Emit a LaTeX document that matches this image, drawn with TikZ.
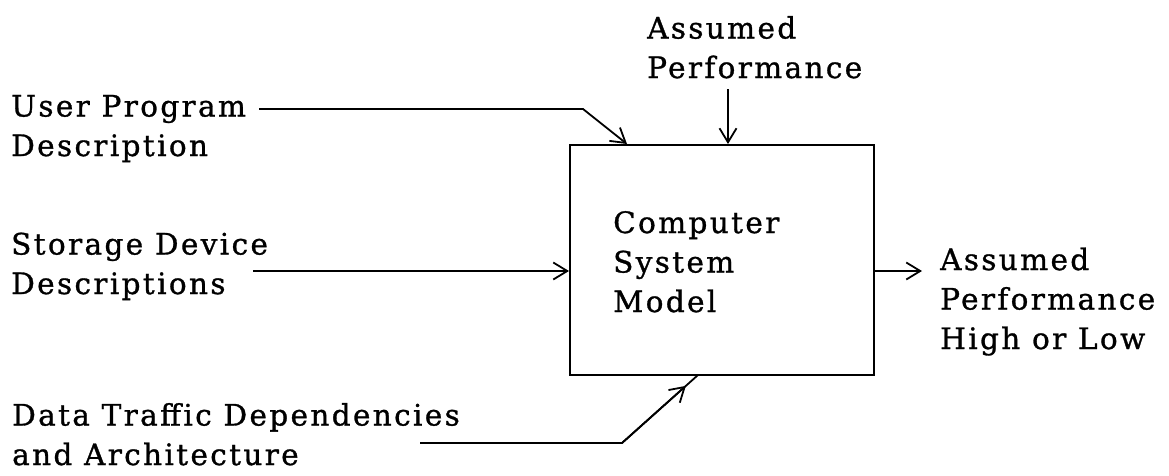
\documentclass[tikz,border=0pt]{standalone}
\usepackage{fontspec}
\newfontfamily\lblfont{DejaVu Serif}[LetterSpace=8,FakeBold=1]
\usetikzlibrary{arrows.meta,calc}
\tikzset{
  lbl/.style={anchor=base west, inner sep=0pt, align=left,
    font=\lblfont\fontsize{29.5}{39.5}\selectfont},
  conn/.style={line width=1.8pt},
  tip/.style={-{Straight Barb[length=14pt,width=17pt,line width=1.8pt]}},
  box/.style={draw, line width=2pt, minimum width=304pt, minimum height=230pt, inner sep=0pt}
}
\begin{document}
\begin{tikzpicture}[x=1pt,y=-1pt]
\useasboundingbox (0,0) rectangle (1169,475);
% model box
\node[box] (model) at (722,260) {};
\node[lbl] (mtext) at (613,312) {Computer\\System\\Model};
% labels (anchor = baseline of last line)
\node[lbl] (perf) at (647,78) {Assumed\\Performance};
\node[lbl] (user) at (11,156) {User Program\\Description};
\node[lbl] (store) at (11,294) {Storage Device\\Descriptions};
\node[lbl] (out) at (940,349) {Assumed\\Performance\\High or Low};
\node[lbl] (data) at (12,465) {Data Traffic Dependencies\\and Architecture};
% connector points
\coordinate (p0) at (728,89);
\coordinate (u0) at (259,109);
\coordinate (u1) at (583,109);
\coordinate (s0) at (253,271);
\coordinate (o1) at (922,271);
\coordinate (d0) at (420,443);
\coordinate (d1) at (622,443);
\coordinate (d2) at (698,375);
% connectors
\draw[conn,tip] (p0) -- (p0 |- model.north);
\draw[conn,tip] (u0) -- (u1) -- ($(model.north west)+(58,0)$);
\draw[conn,tip] (s0) -- (s0 -| model.west);
\draw[conn,tip] (s0 -| model.east) -- (o1);
\draw[conn] (d0) -- (d1) -- (d2);
\draw[conn,tip] (d1) -- ($(d1)!0.84!(d2)$);
\end{tikzpicture}
\end{document}
